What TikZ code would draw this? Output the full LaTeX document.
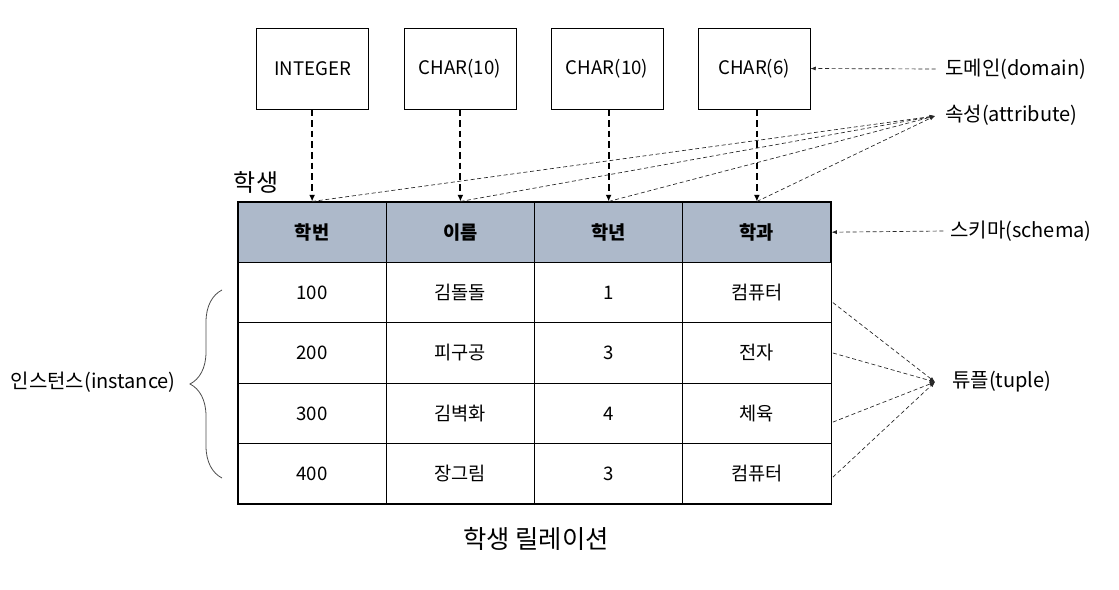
\documentclass[tikz,border=0pt]{standalone}
\usepackage{fontspec}
\setmainfont{Noto Sans CJK KR}
\usetikzlibrary{arrows.meta}
\usetikzlibrary{decorations.pathreplacing}
\definecolor{headblue}{HTML}{ADB9CA}
\tikzset{>={Latex[length=5pt,width=4.5pt]},
  typebox/.style={draw, line width=0.6pt, minimum width=84pt, minimum height=60.75pt,
    font=\fontsize{14}{16}\selectfont},
  cell/.style={draw, line width=0.8pt, minimum width=111.2pt, minimum height=45.3pt,
    inner sep=0pt, font=\fontsize{14}{16}\selectfont},
  headcell/.style={cell, fill=headblue, font=\fontsize{14}{16}\selectfont\bfseries},
  typearrow/.style={->, line width=1.5pt, dash pattern=on 5pt off 3pt},
  notearrow/.style={-{Latex[length=4pt,width=3pt]}, line width=0.5pt,
    dash pattern=on 3pt off 2pt, draw=black!85},
  note/.style={font=\fontsize{15}{17}\selectfont, inner sep=0pt, anchor=west}
}

\begin{document}
\begin{tikzpicture}[x=0.75pt,y=-0.75pt]
    \useasboundingbox (0,0) rectangle (1119,589);

    % domains
    \foreach \ty/\x [count=\i] in {INTEGER/312.5,CHAR(10)/460,CHAR(10)/607,CHAR(6)/754}
        \node[typebox] (d\i) at (\x,68.5) {\ty};

    % relation table
    \foreach \name [count=\i] in {학번,이름,학년,학과}
        \node[headcell] (h\i) at ({238+148.25*(\i-0.5)},232.2) {\name};
    \foreach \num/\nm/\yr/\dept [count=\j] in {100/김돌돌/1/컴퓨터,200/피구공/3/전자,300/김벽화/4/체육,400/장그림/3/컴퓨터} {
        \node[cell] (c\j1) at (312.1,{232.2+60.4*\j}) {\num};
        \node[cell] (c\j2) at (460.4,{232.2+60.4*\j}) {\nm};
        \node[cell] (c\j3) at (608.6,{232.2+60.4*\j}) {\yr};
        \node[cell] (c\j4) at (756.9,{232.2+60.4*\j}) {\dept};
    }

    \foreach \i in {1,...,4}
        \draw[typearrow] (h\i.north |- d\i.south) -- (h\i.north);

    \node[font=\fontsize{18}{21}\selectfont] (stu) at (256,182) {학생};
    \node[font=\fontsize{19}{22}\selectfont] (rel) at (536,539) {학생 릴레이션};

    % labels on the right
    \node[note] (dom) at (945,69) {도메인(domain)};
    \node[note] (attr) at (945,115) {속성(attribute)};
    \node[note] (sch) at (950,231) {스키마(schema)};
    \node[note] (tup) at (952,382) {튜플(tuple)};
    \coordinate (attrtip) at (935,116);
    \coordinate (tuptip) at (935,382);

    \draw[notearrow] ([xshift=-7pt]dom.west) -- (d4.east);
    \draw[notearrow] ([xshift=-5pt]sch.west) -- (h4.east);
    \foreach \i in {1,...,4}
        \draw[notearrow] (h\i.north) -- (attrtip);
    \foreach \j/\dy in {1/-7.5pt,2/0pt,3/-6.5pt,4/-2.5pt}
        \draw[notearrow] ([yshift=\dy,xshift=1pt]c\j4.east) -- (tuptip);

    % instance brace
    \draw[decorate, decoration={brace, amplitude=24pt, aspect=0.5},
        draw=black!70, line width=0.6pt] (222,478) -- (222,290);
    \node[note, anchor=east] (inst) at (176,382) {인스턴스(instance)};

\end{tikzpicture}
\end{document}
